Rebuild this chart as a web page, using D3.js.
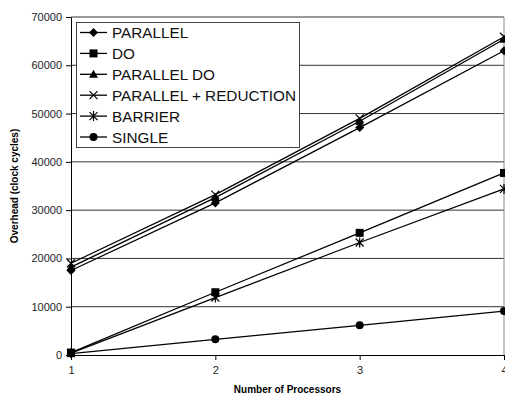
<!DOCTYPE html>
<meta charset="utf-8">
<head>
  <script src="https://d3js.org/d3.v7.min.js"></script>
  <style>
    body { margin: 0; background: #fff; }
    text { font-family: "Liberation Sans", Arial, sans-serif; }
  </style>
</head>
<body>
  <div id="my_dataviz"></div>
</body>
<script>
  // data
  var processors = [1, 2, 3, 4];
  var seriesNames = ["PARALLEL", "DO", "PARALLEL DO", "PARALLEL + REDUCTION", "BARRIER", "SINGLE"];
  var parallel = [17500, 31500, 47100, 63000];
  var doLoop = [500, 13000, 25300, 37700];
  var parallelDo = [18200, 32600, 48400, 65400];
  var parallelReduction = [19000, 33200, 49000, 65900];
  var barrier = [400, 11900, 23300, 34400];
  var single = [300, 3250, 6150, 9100];
  var yTicks = [0, 10000, 20000, 30000, 40000, 50000, 60000, 70000];

  var seriesValues = [parallel, doLoop, parallelDo, parallelReduction, barrier, single];
  var markers = ["diamond", "square", "triangle", "cross", "star", "circle"];

  var margin = { top: 17, right: 1, bottom: 42, left: 71 },
    width = 505 - margin.left - margin.right,
    height = 397 - margin.top - margin.bottom;

  var svg = d3.select("#my_dataviz")
    .append("svg")
    .attr("width", 505)
    .attr("height", 397)
    .append("g")
    .attr("transform", "translate(" + margin.left + "," + margin.top + ")");

  var x = d3.scaleLinear().domain([1, 4]).range([0, width]);
  var y = d3.scaleLinear().domain([0, 70000]).range([height, 0]);

  // gridlines
  svg.selectAll("grid")
    .data(yTicks.slice(1))
    .enter()
    .append("line")
    .attr("x1", 0).attr("x2", width)
    .attr("y1", function (d) { return y(d); })
    .attr("y2", function (d) { return y(d); })
    .attr("stroke", "#333")
    .attr("stroke-width", 1);

  // right border of plot area
  svg.append("line")
    .attr("x1", width).attr("x2", width)
    .attr("y1", 0).attr("y2", height)
    .attr("stroke", "#888");

  // axes
  var yAxis = svg.append("g")
    .call(d3.axisLeft(y).tickValues(yTicks).tickFormat(d3.format("d")).tickSize(5).tickSizeOuter(0).tickPadding(4));
  var xAxis = svg.append("g")
    .attr("transform", "translate(0," + height + ")")
    .call(d3.axisBottom(x).tickValues(processors).tickFormat(d3.format("d")).tickSize(5).tickSizeOuter(0).tickPadding(6));
  [xAxis, yAxis].forEach(function (a) {
    a.selectAll("text").attr("font-size", "11px").attr("fill", "#222")
      .style("font-family", "'Liberation Sans', Arial, sans-serif");
    a.selectAll("line,path").attr("stroke", "#000");
  });

  // axis titles
  svg.append("text")
    .attr("x", width / 2)
    .attr("y", height + 38)
    .attr("text-anchor", "middle")
    .attr("font-size", "10px")
    .attr("font-weight", "bold")
    .text("Number of Processors");
  svg.append("text")
    .attr("transform", "translate(" + (-53) + "," + (height / 2) + ")rotate(-90)")
    .attr("text-anchor", "middle")
    .attr("font-size", "10px")
    .attr("font-weight", "bold")
    .text("Overhead (clock cycles)");

  function drawMarker(g, type) {
    if (type == "diamond") {
      g.append("path").attr("d", "M0,-4.5L4.5,0L0,4.5L-4.5,0Z").attr("fill", "#000");
    } else if (type == "square") {
      g.append("rect").attr("x", -4).attr("y", -4).attr("width", 8).attr("height", 8).attr("fill", "#000");
    } else if (type == "triangle") {
      g.append("path").attr("d", "M0,-4.5L4.5,3.5L-4.5,3.5Z").attr("fill", "#000");
    } else if (type == "cross") {
      g.append("path").attr("d", "M-4,-4L4,4M-4,4L4,-4").attr("stroke", "#000").attr("stroke-width", 1.2);
    } else if (type == "star") {
      g.append("path").attr("d", "M-4,-4L4,4M-4,4L4,-4M0,-5L0,5").attr("stroke", "#000").attr("stroke-width", 1.2);
    } else {
      g.append("circle").attr("r", 4).attr("fill", "#000");
    }
  }

  var line = d3.line()
    .x(function (d, i) { return x(processors[i]); })
    .y(function (d) { return y(d); });

  seriesValues.forEach(function (vals, s) {
    svg.append("path")
      .datum(vals)
      .attr("d", line)
      .attr("fill", "none")
      .attr("stroke", "#000")
      .attr("stroke-width", 1.3);
    vals.forEach(function (v, i) {
      var g = svg.append("g").attr("transform", "translate(" + x(processors[i]) + "," + y(v) + ")");
      drawMarker(g, markers[s]);
    });
  });

  // legend
  var legend = svg.append("g").attr("transform", "translate(5,5)");
  legend.append("rect")
    .attr("x", 0.5).attr("y", 0.5)
    .attr("width", 223).attr("height", 125)
    .attr("fill", "#fff")
    .attr("stroke", "#444");
  seriesNames.forEach(function (name, i) {
    var cy = 10.5 + i * 20.9;
    legend.append("line")
      .attr("x1", 4).attr("x2", 31)
      .attr("y1", cy).attr("y2", cy)
      .attr("stroke", "#000").attr("stroke-width", 1.3);
    drawMarker(legend.append("g").attr("transform", "translate(17.5," + cy + ")"), markers[i]);
    legend.append("text")
      .attr("x", 36).attr("y", cy)
      .attr("dy", "0.36em")
      .attr("font-size", "15.3px")
      .attr("fill", "#111")
      .text(name);
  });
</script>
